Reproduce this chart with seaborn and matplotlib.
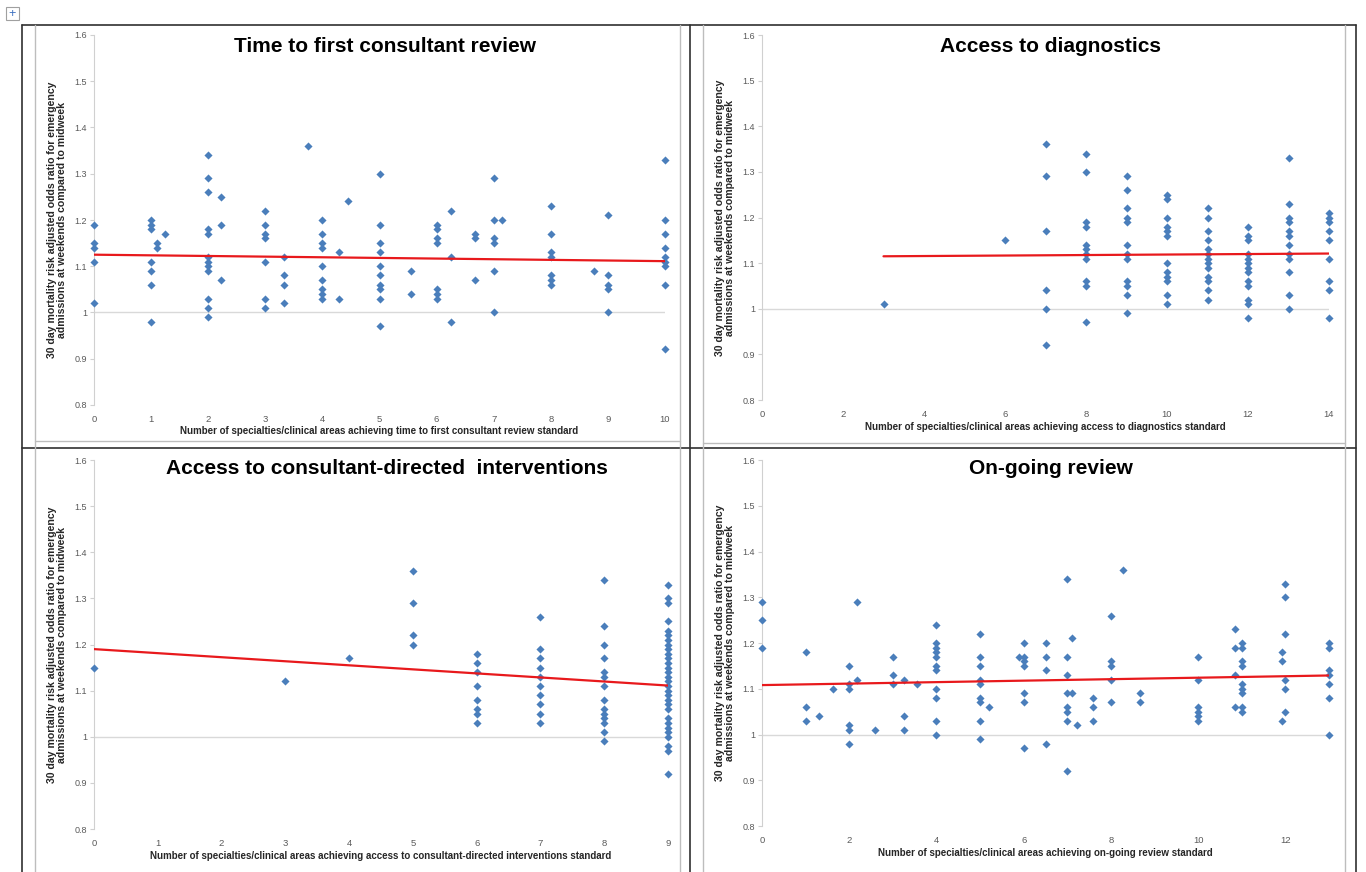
import seaborn as sns
import numpy as np
import pandas as pd
import matplotlib.pyplot as plt
from matplotlib.lines import Line2D
from matplotlib.ticker import FuncFormatter

# values: x position -> list of odds ratios
consultant_review = {
    0: [1.19, 1.15, 1.14, 1.11, 1.02],
    1: [1.20, 1.19, 1.18, 1.11, 1.09, 1.06, 0.98],
    1.11: [1.15, 1.14],
    1.25: [1.17],
    2: [1.34, 1.29, 1.26, 1.18, 1.17, 1.12, 1.11, 1.10, 1.09, 1.03, 1.01, 0.99],
    2.22: [1.25, 1.19, 1.07],
    3: [1.22, 1.19, 1.17, 1.16, 1.11, 1.03, 1.01],
    3.33: [1.12, 1.08, 1.06, 1.02],
    3.75: [1.36],
    4: [1.20, 1.17, 1.15, 1.14, 1.10, 1.07, 1.05, 1.04, 1.03],
    4.29: [1.13, 1.03],
    4.44: [1.24],
    5: [1.30, 1.19, 1.15, 1.13, 1.10, 1.08, 1.06, 1.05, 1.03, 0.97],
    5.56: [1.09, 1.04],
    6: [1.19, 1.18, 1.16, 1.15, 1.05, 1.04, 1.03],
    6.25: [1.22, 1.12, 0.98],
    6.67: [1.17, 1.16, 1.07],
    7: [1.29, 1.20, 1.16, 1.15, 1.09, 1.00],
    7.14: [1.20],
    8: [1.23, 1.17, 1.13, 1.12, 1.08, 1.07, 1.06],
    8.75: [1.09],
    9: [1.21, 1.08, 1.06, 1.05, 1.00],
    10: [1.33, 1.20, 1.17, 1.14, 1.12, 1.11, 1.10, 1.06, 0.92],
}

diagnostics = {
    3: [1.01],
    6: [1.15],
    7: [1.36, 1.29, 1.17, 1.04, 1.00, 0.92],
    8: [1.34, 1.30, 1.19, 1.18, 1.14, 1.13, 1.12, 1.11, 1.06, 1.05, 0.97],
    9: [1.29, 1.26, 1.22, 1.20, 1.19, 1.14, 1.12, 1.11, 1.06, 1.05, 1.03, 0.99],
    10: [1.25, 1.24, 1.20, 1.18, 1.17, 1.16, 1.10, 1.08, 1.07, 1.06, 1.03, 1.01],
    11: [1.22, 1.20, 1.17, 1.15, 1.13, 1.12, 1.11, 1.10, 1.09, 1.07, 1.06, 1.04, 1.02],
    12: [1.18, 1.16, 1.15, 1.12, 1.11, 1.10, 1.09, 1.08, 1.06, 1.05, 1.02, 1.01, 0.98],
    13: [1.33, 1.23, 1.20, 1.19, 1.17, 1.16, 1.14, 1.12, 1.11, 1.08, 1.03, 1.00],
    14: [1.21, 1.20, 1.19, 1.17, 1.15, 1.11, 1.06, 1.04, 0.98],
}

interventions = {
    0: [1.15],
    3: [1.12],
    4: [1.17],
    5: [1.36, 1.29, 1.22, 1.20],
    6: [1.18, 1.16, 1.14, 1.11, 1.08, 1.06, 1.05, 1.03],
    7: [1.26, 1.19, 1.17, 1.15, 1.13, 1.11, 1.09, 1.07, 1.05, 1.03],
    8: [1.34, 1.24, 1.20, 1.17, 1.14, 1.13, 1.11, 1.08, 1.06, 1.05, 1.04, 1.03,
        1.01, 0.99],
    9: [1.33, 1.30, 1.29, 1.25, 1.23, 1.22, 1.21, 1.20, 1.19, 1.18, 1.17, 1.16,
        1.15, 1.14, 1.13, 1.12, 1.11, 1.10, 1.09, 1.08, 1.07, 1.06, 1.04, 1.03,
        1.02, 1.01, 1.00, 0.98, 0.97, 0.92],
}

ongoing_review = {
    0: [1.29, 1.25, 1.19],
    1: [1.18, 1.06, 1.03],
    1.3: [1.04],
    1.63: [1.10],
    2: [1.15, 1.11, 1.10, 1.02, 1.01, 0.98],
    2.17: [1.29, 1.12],
    2.6: [1.01],
    3: [1.17, 1.13, 1.11],
    3.25: [1.12, 1.04, 1.01],
    3.55: [1.11],
    4: [1.24, 1.20, 1.19, 1.18, 1.17, 1.15, 1.14, 1.10, 1.08, 1.03, 1.00],
    5: [1.22, 1.17, 1.15, 1.12, 1.11, 1.08, 1.07, 1.03, 0.99],
    5.2: [1.06],
    5.9: [1.17],
    6: [1.20, 1.17, 1.16, 1.15, 1.09, 1.07, 0.97],
    6.5: [1.20, 1.17, 1.14, 0.98],
    7: [1.34, 1.17, 1.13, 1.09, 1.06, 1.05, 1.03, 0.92],
    7.1: [1.21, 1.09],
    7.23: [1.02],
    7.6: [1.08, 1.06, 1.03],
    8: [1.26, 1.16, 1.15, 1.12, 1.07],
    8.28: [1.36],
    8.67: [1.09, 1.07],
    10: [1.17, 1.12, 1.06, 1.05, 1.04, 1.03],
    10.84: [1.23, 1.19, 1.13, 1.06],
    11: [1.20, 1.19, 1.16, 1.15, 1.11, 1.10, 1.09, 1.06, 1.05],
    11.93: [1.18, 1.16, 1.03],
    12: [1.33, 1.30, 1.22, 1.12, 1.10, 1.05],
    13: [1.20, 1.19, 1.14, 1.13, 1.11, 1.08, 1.00],
}

# trend line end points as drawn in the reference
trend_x = {"review": [0, 10], "diag": [3, 14], "interv": [0, 9], "ongoing": [0, 13]}
trend_y = {"review": [1.125, 1.111], "diag": [1.115, 1.121],
           "interv": [1.19, 1.111], "ongoing": [1.108, 1.129]}

titles = ["Time to first consultant review", "Access to diagnostics",
          "Access to consultant-directed  interventions", "On-going review"]
xlabels = [
    "Number of specialties/clinical areas achieving time to first consultant review standard",
    "Number of specialties/clinical areas achieving access to diagnostics standard",
    "Number of specialties/clinical areas achieving access to consultant-directed interventions standard",
    "Number of specialties/clinical areas achieving on-going review standard",
]
ylabel = ("30 day mortality risk adjusted odds ratio for emergency\n"
          "admissions at weekends compared to midweek")

W, H = 1366, 872
BLUE = "#4a7ebb"


def to_frame(groups):
    rows = [(x, y) for x, ys in groups.items() for y in ys]
    return pd.DataFrame(rows, columns=["x", "y"])


def px_rect(l, t, r, b):
    return [l / W, 1 - b / H, (r - l) / W, (b - t) / H]


sns.set_style("white")
plt.rcParams["font.family"] = ["Liberation Sans", "DejaVu Sans"]

fig = plt.figure(figsize=(W / 100, H / 100), dpi=100)

panels = [
    dict(data=consultant_review, key="review", rect=(94, 35, 665, 405),
         xmax=10, xstep=1, xmaxtick=10, title_xy=(385, 47)),
    dict(data=diagnostics, key="diag", rect=(762, 35, 1329, 400),
         xmax=14, xstep=2, xmaxtick=14, title_xy=(1051, 47)),
    dict(data=interventions, key="interv", rect=(94, 460, 668, 829),
         xmax=9, xstep=1, xmaxtick=9, title_xy=(387, 468)),
    dict(data=ongoing_review, key="ongoing", rect=(762, 460, 1329, 826),
         xmax=13, xstep=2, xmaxtick=12, title_xy=(1051, 468)),
]

for i, p in enumerate(panels):
    l, t, r, b = p["rect"]
    ax = fig.add_axes(px_rect(l, t, r, b))
    ax.set_facecolor("none")
    df = to_frame(p["data"])
    ax.axhline(1.0, color="#d9d9d9", lw=1, zorder=0)
    sns.scatterplot(data=df, x="x", y="y", ax=ax, marker="D", s=17,
                    color=BLUE, edgecolor=BLUE, linewidth=0, clip_on=False,
                    zorder=3)
    sns.lineplot(x=trend_x[p["key"]], y=trend_y[p["key"]], ax=ax,
                 color="#e8191c", lw=1.6, zorder=4)
    ax.set_xlim(0, p["xmax"])
    ax.set_ylim(0.8, 1.6)
    ax.set_xticks(np.arange(0, p["xmaxtick"] + 0.1, p["xstep"]))
    ax.set_yticks(np.arange(0.8, 1.61, 0.1))
    ax.yaxis.set_major_formatter(FuncFormatter(lambda v, _: f"{v:g}"))
    for s in ["top", "right", "bottom"]:
        ax.spines[s].set_visible(False)
    ax.spines["left"].set_color("#d0d0d0")
    ax.tick_params(axis="y", length=3, color="#d0d0d0", labelsize=6.5,
                   labelcolor="#5a5a5a", pad=2, left=True)
    ax.tick_params(axis="x", length=0, labelsize=6.8, labelcolor="#5a5a5a",
                   pad=7)
    ax.set_xlabel(xlabels[i], fontsize=7.0, fontweight="bold",
                  color="#262626", labelpad=2)
    ax.set_ylabel(ylabel, fontsize=7.6, fontweight="bold", color="#262626",
                  linespacing=1.05)
    ax.yaxis.set_label_coords(-27 / (r - l), 0.5)
    tx, ty = p["title_xy"]
    fig.text(tx / W, 1 - ty / H, titles[i], ha="center", va="center",
             fontsize=15, fontweight="bold", color="black")

# frames around the four chart cells
def hline(y, x0, x1, color, lw):
    fig.add_artist(Line2D([x0 / W, x1 / W], [1 - y / H, 1 - y / H],
                          color=color, lw=lw))


def vline(x, y0, y1, color, lw):
    fig.add_artist(Line2D([x / W, x / W], [1 - y0 / H, 1 - y1 / H],
                          color=color, lw=lw))


hline(25, 22, 1356, "#303030", 1.2)
hline(448, 22, 1356, "#303030", 1.2)
hline(443, 703, 1345, "#bdbdbd", 1.0)
hline(441, 35, 680, "#bdbdbd", 1.0)
vline(22, 25, 872, "#303030", 1.2)
vline(690, 25, 872, "#303030", 1.2)
vline(1356, 25, 872, "#303030", 1.2)
vline(35, 25, 872, "#bdbdbd", 1.0)
vline(680, 25, 872, "#bdbdbd", 1.0)
vline(703, 25, 872, "#bdbdbd", 1.0)
vline(1345, 25, 872, "#bdbdbd", 1.0)

# small move handle in the corner
fig.add_artist(plt.Rectangle((6 / W, 1 - 20 / H), 13 / W, 13 / H,
                             fill=False, edgecolor="#a0a0a0", lw=0.8))
fig.text(12.5 / W, 1 - 13.5 / H, "+", ha="center", va="center",
         fontsize=9, color="#3a6fc0")

fig.savefig("out.png", dpi=100)
